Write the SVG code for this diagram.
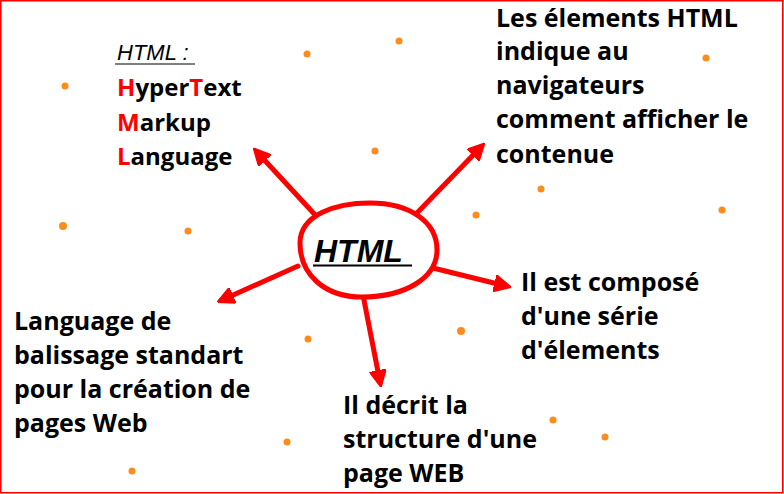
<svg xmlns="http://www.w3.org/2000/svg" width="784" height="494" viewBox="0 0 784 494">
<style>
.t{font-family:"Open Sans","Noto Sans",sans-serif;font-weight:bold;font-size:25px;fill:#000}
.h{font-size:24px}
.r{fill:#ff0000}
.a{stroke:#ff0000;stroke-width:5;fill:none;stroke-linecap:round}
.d{fill:#ff8c1a}
</style>
<defs>
<marker id="ah" viewBox="0 0 10 10" refX="7" refY="5" markerWidth="3.4" markerHeight="3.4" orient="auto" markerUnits="strokeWidth">
<path d="M0,0 L10,5 L0,10 Z" fill="#ff0000" stroke="#ff0000" stroke-width="1" stroke-linejoin="round"/>
</marker>
</defs>
<rect x="0" y="0" width="784" height="494" fill="#fff"/>
<rect x="0.75" y="0.75" width="782" height="492" fill="none" stroke="#ff0000" stroke-width="1.5"/>
<g id="dots">
<circle class="d" cx="307" cy="54" r="3.5"/>
<circle class="d" cx="399" cy="41" r="3.5"/>
<circle class="d" cx="706" cy="58" r="3.5"/>
<circle class="d" cx="65" cy="86" r="3.5"/>
<circle class="d" cx="375" cy="151" r="3.5"/>
<circle class="d" cx="541" cy="189" r="3.5"/>
<circle class="d" cx="722" cy="210" r="3.5"/>
<circle class="d" cx="476" cy="215" r="3.5"/>
<circle class="d" cx="63" cy="226" r="4"/>
<circle class="d" cx="188" cy="231" r="3.5"/>
<circle class="d" cx="461" cy="331" r="4"/>
<circle class="d" cx="308" cy="339" r="3.5"/>
<circle class="d" cx="553" cy="420" r="3.5"/>
<circle class="d" cx="605" cy="437" r="3.5"/>
<circle class="d" cx="287" cy="442" r="3.5"/>
<circle class="d" cx="132" cy="471" r="3.5"/>
</g>
<g id="connectors">
<line class="a" x1="318" y1="218" x2="257" y2="152" marker-end="url(#ah)"/>
<line class="a" x1="415" y1="215" x2="481" y2="147" marker-end="url(#ah)"/>
<line class="a" x1="298" y1="266" x2="222" y2="300" marker-end="url(#ah)"/>
<line class="a" x1="363" y1="295" x2="380" y2="382" marker-end="url(#ah)"/>
<line class="a" x1="433" y1="268" x2="506" y2="286" marker-end="url(#ah)"/>
</g>
<g id="center">
<path d="M300,243 C300,215 335,203 370,203 C410,203 437,222 437,250 C437,278 405,297 362,297 C325,297 300,275 300,243 Z" fill="#fff" stroke="#ff0000" stroke-width="5"/>
<text x="314" y="262" font-family="'Liberation Sans',Arial,sans-serif" font-size="32" font-style="italic" font-weight="bold" fill="#000">HTML</text>
<line x1="313" y1="265.5" x2="412" y2="265.5" stroke="#000" stroke-width="2"/>
</g>
<g id="n-acronym">
<text x="117" y="60" font-family="'Liberation Sans',Arial,sans-serif" font-size="22" font-style="italic" fill="#000">HTML :</text>
<line x1="115" y1="64" x2="195" y2="64" stroke="#000" stroke-width="1.2"/>
<text class="t h" x="117" y="96"><tspan class="r">H</tspan>yper<tspan class="r">T</tspan>ext</text>
<text class="t h" x="117" y="131"><tspan class="r">M</tspan>arkup</text>
<text class="t h" x="117" y="165"><tspan class="r">L</tspan>anguage</text>
</g>
<g id="n-elements">
<text class="t" x="496" y="27">Les élements HTML</text>
<text class="t" x="496" y="60">indique au</text>
<text class="t" x="496" y="94">navigateurs</text>
<text class="t" x="496" y="128">comment afficher le</text>
<text class="t" x="496" y="163">contenue</text>
</g>
<g id="n-language">
<text class="t" x="14" y="330">Language de</text>
<text class="t" x="14" y="364">balissage standart</text>
<text class="t" x="14" y="398">pour la création de</text>
<text class="t" x="14" y="432">pages Web</text>
</g>
<g id="n-structure">
<text class="t" x="343" y="414">Il décrit la</text>
<text class="t" x="343" y="448">structure d'une</text>
<text class="t" x="343" y="482">page WEB</text>
</g>
<g id="n-compose">
<text class="t" x="521" y="291">Il est composé</text>
<text class="t" x="521" y="325">d'une série</text>
<text class="t" x="521" y="359">d'élements</text>
</g>
</svg>
